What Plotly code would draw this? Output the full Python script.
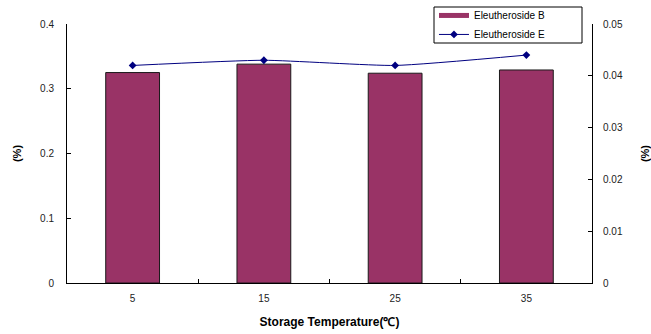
import plotly.graph_objects as go

# Storage temperature categories (°C)
temperatures = ["5", "15", "25", "35"]
# Eleutheroside B content (%), left axis
eleutheroside_b = [0.325, 0.338, 0.324, 0.329]
# Eleutheroside E content (%), right axis
eleutheroside_e = [0.042, 0.043, 0.042, 0.044]

font_family = "Liberation Sans, Arial, sans-serif"
bar_color = "#993366"
line_color = "#000080"

fig = go.Figure()

fig.add_trace(go.Bar(
    x=temperatures,
    y=eleutheroside_b,
    name="Eleutheroside B",
    legendgroup="b",
    showlegend=False,
    width=0.41,
    marker=dict(color=bar_color, line=dict(color="#1a1a1a", width=1)),
))

# Legend entry for the bars, shown as a wide flat swatch
fig.add_trace(go.Scatter(
    x=[None], y=[None],
    name="Eleutheroside B",
    legendgroup="b",
    mode="lines",
    line=dict(color=bar_color, width=5),
))

fig.add_trace(go.Scatter(
    x=temperatures,
    y=eleutheroside_e,
    name="Eleutheroside E",
    yaxis="y2",
    mode="lines+markers",
    line=dict(color=line_color, width=1, shape="spline", smoothing=0.5),
    marker=dict(symbol="diamond", size=6, color=line_color),
))

axis_common = dict(
    automargin=False,
    ticks="inside",
    ticklen=4,
    tickcolor="#000000",
    showline=True,
    linecolor="#000000",
    linewidth=1,
    showgrid=False,
    tickfont=dict(size=10, color="#222222"),
)

fig.update_layout(
    width=651,
    height=334,
    margin=dict(l=67, r=59, t=24, b=51, autoexpand=False),
    paper_bgcolor="white",
    plot_bgcolor="white",
    font=dict(family=font_family, size=10, color="#000000"),
    showlegend=True,
    legend=dict(
        x=0.699, y=1.089, xanchor="left", yanchor="top",
        bgcolor="rgba(0,0,0,0)", borderwidth=0,
        font=dict(size=10),
        itemwidth=30,
        tracegroupgap=0,
    ),
    # legend frame
    shapes=[dict(
        type="rect", xref="paper", yref="paper", layer="above",
        x0=(434 - 67) / 525, x1=(582 - 67) / 525,
        y0=(283 - 43) / 259, y1=(283 - 7) / 259,
        line=dict(color="#000000", width=1),
        fillcolor="white",
    )],
    xaxis=dict(
        **axis_common,
        type="category",
        tickson="boundaries",
        ticklabelstandoff=6,
        title=dict(text="<b>Storage Temperature(℃)</b>", font=dict(size=12), standoff=14),
        range=[-0.5, 3.5],
    ),
    yaxis=dict(
        **axis_common,
        range=[0, 0.4],
        tickvals=[0, 0.1, 0.2, 0.3, 0.4],
        ticktext=["0", "0.1", "0.2", "0.3", "0.4"],
        zeroline=False,
        ticklabelstandoff=10,
        title=dict(text="<b>(%)</b>", font=dict(size=11), standoff=16),
    ),
    yaxis2=dict(
        **axis_common,
        overlaying="y",
        side="right",
        range=[0, 0.05],
        tickvals=[0, 0.01, 0.02, 0.03, 0.04, 0.05],
        ticktext=["0", "0.01", "0.02", "0.03", "0.04", "0.05"],
        zeroline=False,
        ticklabelstandoff=8,
        title=dict(text="<b>(%)</b>", font=dict(size=11), standoff=20),
    ),
)

fig.write_html("out.html")
